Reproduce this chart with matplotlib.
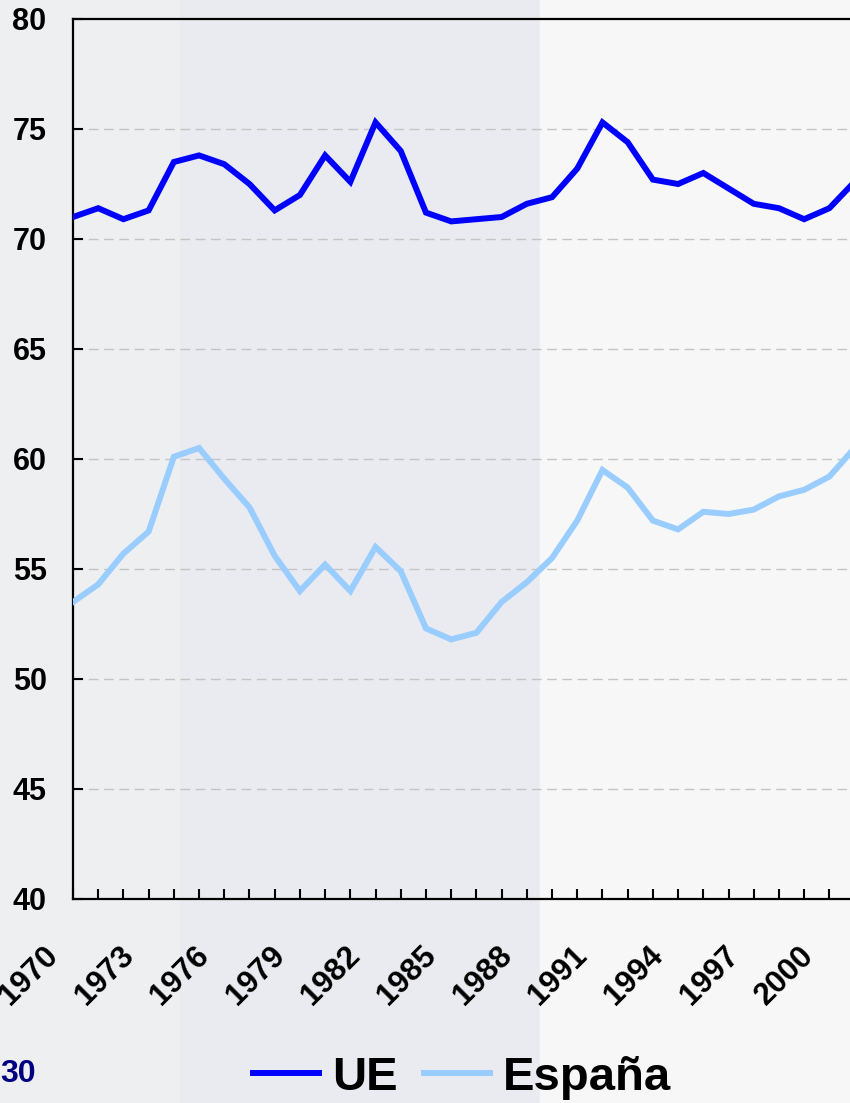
import matplotlib
matplotlib.use('Agg')
import matplotlib.pyplot as plt
import matplotlib.transforms as mtransforms
from matplotlib.patches import Rectangle

# Tasa de empleo (%), UE vs España
years = list(range(1970, 2002))
ue = [71.0, 71.4, 70.9, 71.3, 73.5, 73.8, 73.4, 72.5, 71.3, 72.0,
      73.8, 72.6, 75.3, 74.0, 71.2, 70.8, 70.9, 71.0, 71.6, 71.9,
      73.2, 75.3, 74.4, 72.7, 72.5, 73.0, 72.3, 71.6, 71.4, 70.9,
      71.4, 72.6]
espana = [53.5, 54.3, 55.7, 56.7, 60.1, 60.5, 59.1, 57.8, 55.6, 54.0,
          55.2, 54.0, 56.0, 54.9, 52.3, 51.8, 52.1, 53.5, 54.4, 55.5,
          57.2, 59.5, 58.7, 57.2, 56.8, 57.6, 57.5, 57.7, 58.3, 58.6,
          59.2, 60.5]
series_names = ['UE', 'España']
label_years = list(range(1970, 2001, 3))
y_ticks = list(range(40, 81, 5))

plt.rcParams['font.family'] = ['Liberation Sans', 'DejaVu Sans']
plt.rcParams['font.weight'] = 'bold'

W, H = 850, 1103
fig = plt.figure(figsize=(W / 100, H / 100), dpi=100)
fig.patch.set_facecolor('#f1f2f4')

# rough version of the slide background
fig.patches.append(Rectangle((0, 0), 180 / W, 1, transform=fig.transFigure,
                             color='#eeeff1', zorder=-10))
fig.patches.append(Rectangle((180 / W, 0), 360 / W, 1, transform=fig.transFigure,
                             color='#e9ebf0', zorder=-10))
fig.patches.append(Rectangle((540 / W, 0), 310 / W, 1, transform=fig.transFigure,
                             color='#f7f7f7', zorder=-10))

# axes runs past the right edge, as in the original slide
ax = fig.add_axes([73 / W, 204 / H, 832 / W, 880 / H])
ax.set_facecolor('none')

l1, = ax.plot(years, ue, color='#0000ff', lw=4.3, solid_joinstyle='miter', zorder=3)
l2, = ax.plot(years, espana, color='#99ccff', lw=4.3, solid_joinstyle='miter', zorder=3)

ax.set_xlim(1970, 2003)
ax.set_ylim(40, 80)

for s in ['left', 'bottom', 'top']:
    ax.spines[s].set_linewidth(1.6)
ax.spines['right'].set_visible(False)

ax.set_yticks(y_ticks)
ax.set_yticklabels([str(v) for v in y_ticks], fontsize=22, fontweight='bold')
ax.set_xticks(years + [2002, 2003])
ax.set_xticklabels([str(y) if y in label_years else '' for y in years + [2002, 2003]],
                   rotation=45, ha='right', va='top', fontsize=22.5, fontweight='bold')
ax.tick_params(axis='y', direction='in', length=7.2, width=1.5, pad=19)
ax.tick_params(axis='x', direction='in', length=7.2, width=1.5, pad=30)

shift = mtransforms.ScaledTranslation(-9 / 100, 0, fig.dpi_scale_trans)
for lab in ax.get_xticklabels():
    lab.set_transform(lab.get_transform() + shift)

for v in y_ticks[1:-1]:
    ax.axhline(v, color='#c4c4c4', lw=1.0, ls=(0, (7, 4)), zorder=1)

fig.legend([l1, l2], series_names, loc='center', ncol=2,
           bbox_to_anchor=(462 / W, 25 / H), frameon=False,
           prop={'size': 34, 'weight': 'bold'}, handlelength=1.4,
           handletextpad=0.28, columnspacing=0.55, borderaxespad=0)

fig.text(0.0, 29 / H, '30', color='#000080', fontsize=23, fontweight='bold',
         ha='left', va='center')

fig.savefig('out.png', dpi=100, facecolor=fig.get_facecolor())
